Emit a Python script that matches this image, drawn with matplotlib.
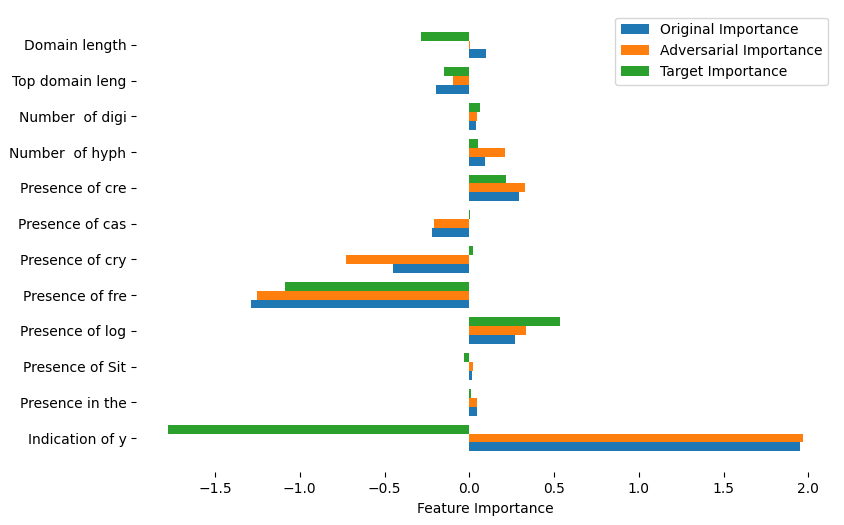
import numpy as np
import matplotlib
matplotlib.use('Agg')
import matplotlib.pyplot as plt

# ==================================================
# データ
# ==================================================
features = ["Indication of y", "Presence in the", "Presence of Sit", "Presence of log",
            "Presence of fre", "Presence of cry", "Presence of cas", "Presence of cre",
            "Number  of hyph", "Number  of digi", "Top domain leng", "Domain length"]
original_imp = [1.951, 0.045, 0.016, 0.27, -1.288, -0.45, -0.22, 0.293, 0.093, 0.04, -0.196, 0.099]
adversarial_imp = [1.969, 0.045, 0.022, 0.335, -1.252, -0.727, -0.208, 0.329, 0.211, 0.045, -0.096, 0.004]
target_imp = [-1.778, 0.01, -0.031, 0.535, -1.087, 0.022, 0.004, 0.217, 0.051, 0.063, -0.149, -0.285]

# ==================================================
# グラフ出力
# ==================================================
y = np.arange(len(features))
h = 0.25

fig, ax = plt.subplots(figsize=(8.44, 5.25), dpi=100)
fig.subplots_adjust(left=136.2 / 844, right=834.8 / 844, top=1 - 10.6 / 525, bottom=1 - 472.4 / 525)

ax.barh(y - h, original_imp, height=h, label='Original Importance')
ax.barh(y, adversarial_imp, height=h, label='Adversarial Importance')
ax.barh(y + h, target_imp, height=h, label='Target Importance')

ax.set_yticks(y)
ax.set_yticklabels(features)
ax.set_xlabel('Feature Importance')
for s in ax.spines.values():
    s.set_visible(False)
ax.legend(loc='upper right')

plt.savefig('out.png', dpi=100)
